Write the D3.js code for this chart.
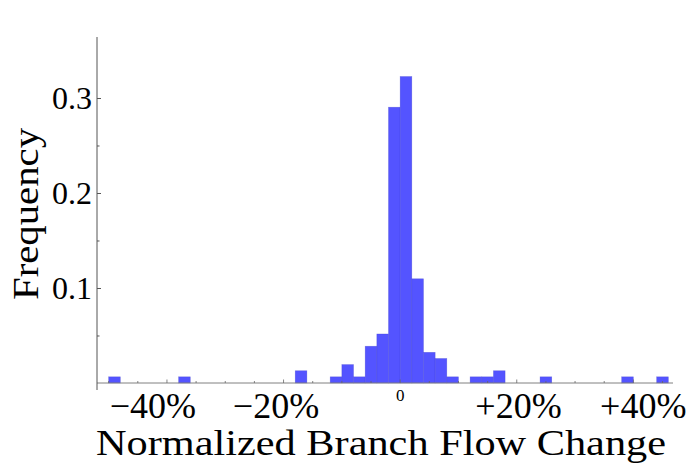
<!DOCTYPE html>
<html>
<head>
<meta charset="utf-8">
<script src="https://cdn.jsdelivr.net/npm/d3@7"></script>
<style>
  body { margin: 0; background: #fff; }
  svg text { font-family: "Liberation Serif", "DejaVu Serif", serif; fill: #000; }
</style>
</head>
<body>
<svg id="chart" width="699" height="475"></svg>
<script>
// histogram bins: left edge in percent (bin width 2%) and frequency
const binStart = [-50, -38, -18, -12, -10, -8, -6, -4, -2, 0, 2, 4, 6, 8, 12, 14, 16, 24, 38, 44];
const freq = [0.0065, 0.0065, 0.0129, 0.0065, 0.0194, 0.0065, 0.0387, 0.0516, 0.2903, 0.3226,
              0.1097, 0.0323, 0.0258, 0.0065, 0.0065, 0.0065, 0.0129, 0.0065, 0.0065, 0.0065];
const binWidth = 2;

const yMajor = [0.1, 0.2, 0.3];
const yMinor = [0.05, 0.15, 0.25];
const xTicks = d3.range(-50, 50, 5);
const xMajor = [-40, -20, 0, 20, 40];
// label anchors (in percent units) as they sit in the original
const xLabels = [
  { at: -42.4, text: "\u221240%" },
  { at: -21.3, text: "\u221220%" },
  { at: 0, text: "0", small: true },
  { at: 20.3, text: "+20%" },
  { at: 41.7, text: "+40%" }
];

const svg = d3.select("#chart");
const x = d3.scaleLinear().domain([-52, 46.8]).range([97, 673]);
const y = d3.scaleLinear().domain([0, 0.3642]).range([383, 37]);

// bars
svg.append("g")
  .selectAll("rect")
  .data(binStart.map((b, i) => ({ b: b, f: freq[i] })))
  .enter().append("rect")
  .attr("x", d => x(d.b))
  .attr("width", d => x(d.b + binWidth) - x(d.b))
  .attr("y", d => y(d.f))
  .attr("height", d => y(0) - y(d.f))
  .attr("fill", "#5454ff")
  .attr("stroke", "#3b3bc8")
  .attr("stroke-opacity", 0.45)
  .attr("stroke-width", 0.6);

// x axis: line + inward ticks
const xAxisG = svg.append("g").attr("transform", `translate(0,${y(0)})`);
xAxisG.append("line")
  .attr("x1", x.range()[0]).attr("x2", x.range()[1])
  .attr("stroke", "#808080").attr("stroke-width", 1);
xAxisG.selectAll("line.tick")
  .data(xTicks)
  .enter().append("line")
  .attr("class", "tick")
  .attr("x1", d => x(d)).attr("x2", d => x(d))
  .attr("y1", 0).attr("y2", d => xMajor.includes(d) ? -3.5 : -2)
  .attr("stroke", "#666").attr("stroke-width", 0.8);

svg.append("g")
  .selectAll("text")
  .data(xLabels)
  .enter().append("text")
  .attr("x", d => x(d.at))
  .attr("y", d => d.small ? 401 : 418)
  .attr("text-anchor", "middle")
  .attr("font-size", d => d.small ? 17 : 36)
  .text(d => d.text);

// y axis
const yAxisG = svg.append("g").attr("transform", `translate(${x.range()[0]},0)`);
yAxisG.append("line")
  .attr("y1", 37).attr("y2", 390)
  .attr("stroke", "#555").attr("stroke-width", 1);
yAxisG.call(d3.axisLeft(y).tickValues(yMinor).tickSize(-2.5).tickFormat(""))
  .call(g => g.select(".domain").remove());
const yMaj = svg.append("g").attr("transform", `translate(${x.range()[0]},0)`)
  .call(d3.axisLeft(y).tickValues(yMajor).tickSize(-4).tickPadding(5).tickFormat(d3.format(".1f")));
yMaj.select(".domain").remove();
svg.selectAll(".tick line").attr("stroke", "#555");
yMaj.selectAll("text")
  .attr("font-family", "Liberation Serif, serif")
  .attr("font-size", 32)
  .attr("dy", "0.32em");

// axis titles
svg.append("text")
  .attr("x", 381).attr("y", 455)
  .attr("text-anchor", "middle")
  .attr("font-size", 36)
  .attr("textLength", 570).attr("lengthAdjust", "spacingAndGlyphs")
  .text("Normalized Branch Flow Change");

svg.append("text")
  .attr("transform", "translate(38,214) rotate(-90)")
  .attr("text-anchor", "middle")
  .attr("font-size", 36)
  .attr("textLength", 172).attr("lengthAdjust", "spacingAndGlyphs")
  .text("Frequency");
</script>
</body>
</html>
